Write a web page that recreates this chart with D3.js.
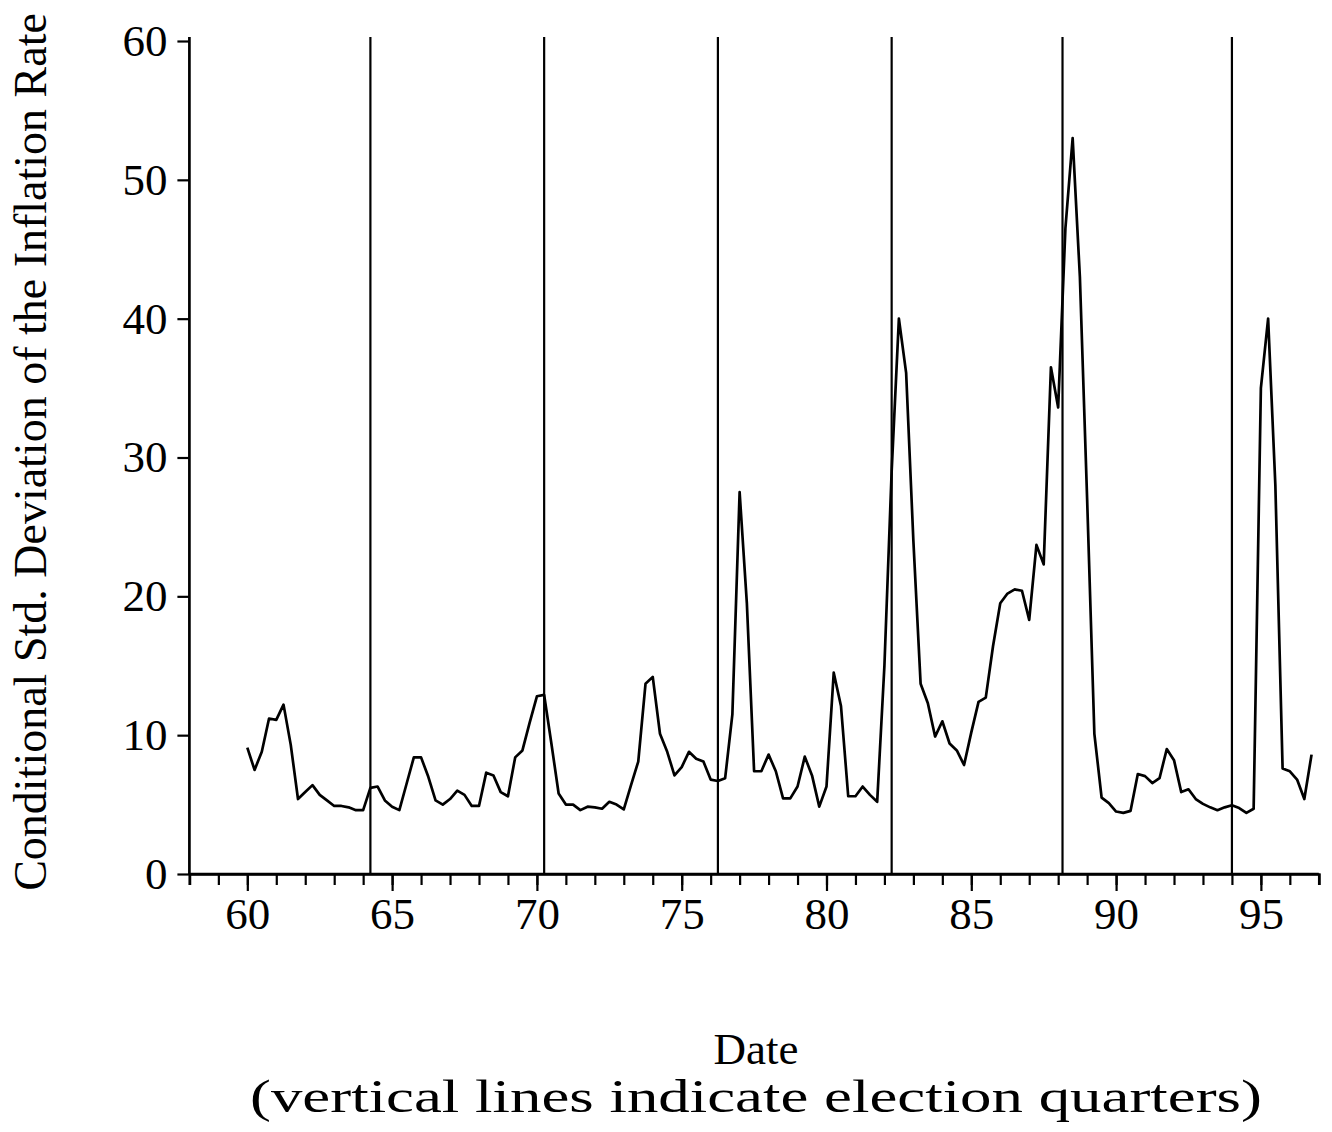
<!DOCTYPE html>
<html>
<head>
<meta charset="utf-8">
<script src="https://cdn.jsdelivr.net/npm/d3@7"></script>
<style>
  body { margin: 0; background: #fff; }
  text { font-family: "Liberation Serif", "Times New Roman", serif; fill: #000; }
</style>
</head>
<body>
<div class="chart"></div>
<script>
// quarterly series, first quarter is 1960 Q1
var startYear = 60;
var stdDev = [
  9.1, 7.5, 8.8, 11.2, 11.1, 12.2, 9.3, 5.4, 5.9, 6.4,
  5.7, 5.3, 4.9, 4.9, 4.8, 4.6, 4.6, 6.2, 6.3, 5.3,
  4.85, 4.6, 6.5, 8.4, 8.4, 7.0, 5.3, 5.0, 5.4, 6.0,
  5.7, 4.9, 4.9, 7.3, 7.1, 5.9, 5.6, 8.4, 8.9, 10.9,
  12.8, 12.9, 9.4, 5.8, 5.0, 5.0, 4.6, 4.85, 4.8, 4.7,
  5.2, 5.0, 4.65, 6.4, 8.1, 13.7, 14.2, 10.1, 8.8, 7.1,
  7.7, 8.8, 8.3, 8.1, 6.8, 6.7, 6.9, 11.5, 27.5, 19.5,
  7.4, 7.4, 8.6, 7.4, 5.45, 5.45, 6.3, 8.45, 7.1, 4.85,
  6.3, 14.5, 12.1, 5.6, 5.6, 6.3, 5.7, 5.2, 15, 29,
  40, 36.1, 24, 13.7, 12.3, 9.9, 11.0, 9.4, 8.9, 7.85,
  10.2, 12.4, 12.7, 16.4, 19.5, 20.2, 20.5, 20.4, 18.3, 23.7,
  22.3, 36.5, 33.6, 46.5, 53, 43, 27, 10.1, 5.5, 5.1,
  4.5, 4.4, 4.55, 7.2, 7.05, 6.55, 6.9, 9.0, 8.2, 5.9,
  6.1, 5.4, 5.05, 4.8, 4.6, 4.8, 4.95, 4.75, 4.4, 4.7,
  35, 40, 28, 7.6, 7.4, 6.8, 5.4, 8.6
];
var electionQuarters = [64.25, 70.25, 76.25, 82.25, 88.15, 94.0];
var xLabels = [60, 65, 70, 75, 80, 85, 90, 95];
var xMinor = d3.range(58, 98);
var yLabels = [0, 10, 20, 30, 40, 50, 60];

var width = 1332, height = 1132;

var svg = d3.select(".chart")
  .append("svg")
  .attr("width", width)
  .attr("height", height);

var x = d3.scaleLinear().domain([58, 97]).range([189.4, 1318.8]);
var y = d3.scaleLinear().domain([0, 60]).range([874, 41]);

// election quarter lines
svg.selectAll(".election")
  .data(electionQuarters)
  .enter()
  .append("line")
    .attr("class", "election")
    .attr("x1", d => x(d)).attr("x2", d => x(d))
    .attr("y1", 37).attr("y2", y(0))
    .style("stroke", "#000")
    .style("stroke-width", 2.2);

// the series
var points = stdDev.map(function(v, i) { return [startYear + i / 4, v]; });
svg.append("path")
  .datum(points)
  .attr("d", d3.line().x(d => x(d[0])).y(d => y(d[1])))
  .style("fill", "none")
  .style("stroke", "#000")
  .style("stroke-width", 2.7)
  .style("stroke-linejoin", "round");

// x axis: yearly minor ticks, labelled ticks every 5 years
var xMinorAxis = svg.append("g")
  .attr("transform", "translate(0," + y(0) + ")")
  .call(d3.axisBottom(x).tickValues(xMinor).tickSize(11).tickFormat(""));

var xAxis = svg.append("g")
  .attr("transform", "translate(0," + y(0) + ")")
  .call(d3.axisBottom(x).tickValues(xLabels).tickSize(17).tickPadding(6).tickFormat(d3.format("d")));

// y axis
var yAxis = svg.append("g")
  .attr("transform", "translate(" + x(58) + ",0)")
  .call(d3.axisLeft(y).tickValues(yLabels).tickSize(12).tickPadding(10).tickFormat(d3.format("d")));

[xMinorAxis, xAxis, yAxis].forEach(function(g) {
  g.select(".domain").style("stroke", "#000").style("stroke-width", 2.7);
  g.selectAll(".tick line").style("stroke", "#000").style("stroke-width", 2.2);
  g.selectAll("text").style("font-size", "45px").style("font-family", "Liberation Serif, serif");
});
xAxis.select(".domain").attr("d", "M" + x(58) + ",0H" + x(97));
yAxis.select(".domain").attr("d", "M0," + y(0) + "V37");

// titles
svg.append("text")
  .attr("transform", "translate(46," + 452 + ") rotate(-90)")
  .attr("text-anchor", "middle")
  .style("font-size", "46px")
  .text("Conditional Std. Deviation of the Inflation Rate");

svg.append("text")
  .attr("x", 756).attr("y", 1064)
  .attr("text-anchor", "middle")
  .style("font-size", "45px")
  .text("Date");

svg.append("text")
  .attr("x", 756).attr("y", 1112)
  .attr("text-anchor", "middle")
  .attr("textLength", 1012)
  .attr("lengthAdjust", "spacingAndGlyphs")
  .style("font-size", "47px")
  .text("(vertical lines indicate election quarters)");
</script>
</body>
</html>
